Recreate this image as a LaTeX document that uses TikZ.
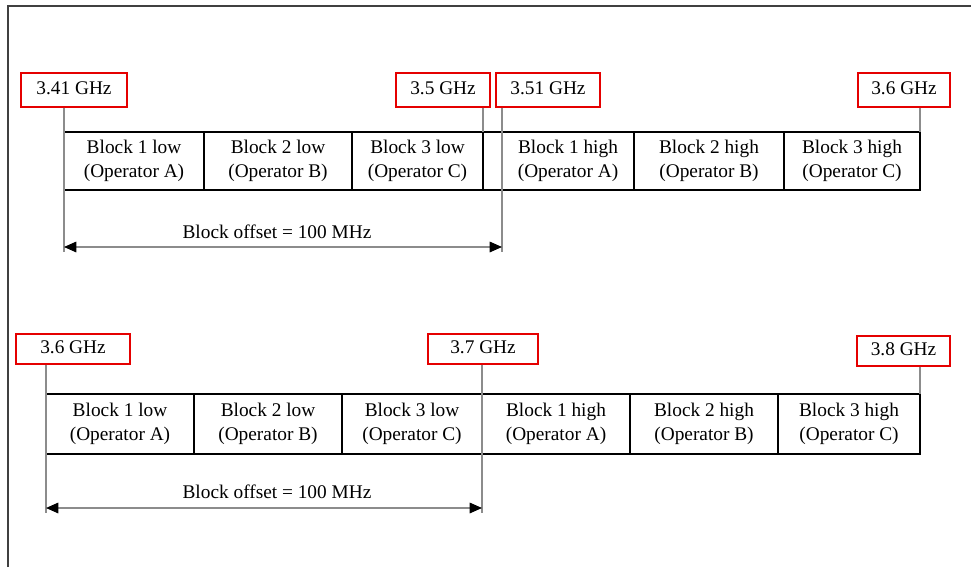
\documentclass[tikz,border=0pt]{standalone}
\usepackage{fontspec}
\setmainfont{Liberation Serif}
\usepackage{tikz}
\usetikzlibrary{positioning, arrows.meta, calc}

\begin{document}
\begin{tikzpicture}[
  font=\fontsize{11}{14}\selectfont,
  cell/.style={draw, line width=0.8pt, outer sep=0pt, inner sep=1pt, align=center},
  freq/.style={draw=red!90!black, line width=0.8pt, minimum height=0.68cm, inner sep=1pt,
    text depth=2pt},
  leader/.style={draw=black!45, line width=0.8pt},
  offset/.style={draw=black!45, line width=0.8pt,
    {Triangle[length=7pt,width=6pt,color=black]}-{Triangle[length=7pt,width=6pt,color=black]}},
]
  \useasboundingbox (0,0) rectangle (19.42,-11.34);
  % page frame (left and top edge only)
  \draw[black!75, line width=0.9pt] (0.16,-11.34) -- (0.16,-0.12) -- (19.42,-0.12);

  % Upper plan: 3.41 -- 3.6 GHz, low and high blocks with a gap
  \node[cell, minimum width=2.8cm, minimum height=1.16cm] (tl1) at (2.68,-3.22) {Block 1 low\\(Operator A)};
  \node[cell, minimum width=2.96cm, minimum height=1.16cm, right=0pt of tl1] (tl2) {Block 2 low\\(Operator B)};
  \node[cell, minimum width=2.62cm, minimum height=1.16cm, right=0pt of tl2] (tl3) {Block 3 low\\(Operator C)};
  \node[cell, minimum width=0.38cm, minimum height=1.16cm, right=0pt of tl3] (tgap) {};
  \node[cell, minimum width=2.64cm, minimum height=1.16cm, right=0pt of tgap] (th1) {Block 1 high\\(Operator A)};
  \node[cell, minimum width=3.0cm, minimum height=1.16cm, right=0pt of th1] (th2) {Block 2 high\\(Operator B)};
  \node[cell, minimum width=2.72cm, minimum height=1.16cm, right=0pt of th2] (th3) {Block 3 high\\(Operator C)};

  \node[freq, minimum width=2.12cm] (f341) at (1.48,-1.8) {3.41 GHz};
  \node[freq, minimum width=1.88cm] (f35)  at (8.86,-1.8) {3.5 GHz};
  \node[freq, minimum width=2.08cm] (f351) at (10.96,-1.8) {3.51 GHz};
  \node[freq, minimum width=1.84cm] (f36a) at (18.08,-1.8) {3.6 GHz};

  \coordinate (ta) at ($(tl1.south west)+(0,-1.14)$);
  \coordinate (tb) at ($(th1.south west)+(0,-1.14)$);
  \draw[leader] (tl1.north west |- f341.south) -- ($(ta)+(0,-0.1)$);
  \draw[leader] (tl3.north east |- f35.south) -- (tl3.north east);
  \draw[leader] (th1.north west |- f351.south) -- ($(tb)+(0,-0.1)$);
  \draw[leader] (th3.north east |- f36a.south) -- (th3.north east);
  \draw[offset] (ta) -- (tb);
  \node (toff) at (5.54,-4.64) {Block offset = 100 MHz};

  % Lower plan: 3.6 -- 3.8 GHz, contiguous blocks
  \node[cell, minimum width=2.96cm, minimum height=1.2cm] (bl1) at (2.4,-8.48) {Block 1 low\\(Operator A)};
  \node[cell, minimum width=2.96cm, minimum height=1.2cm, right=0pt of bl1] (bl2) {Block 2 low\\(Operator B)};
  \node[cell, minimum width=2.8cm, minimum height=1.2cm, right=0pt of bl2] (bl3) {Block 3 low\\(Operator C)};
  \node[cell, minimum width=2.96cm, minimum height=1.2cm, right=0pt of bl3] (bh1) {Block 1 high\\(Operator A)};
  \node[cell, minimum width=2.96cm, minimum height=1.2cm, right=0pt of bh1] (bh2) {Block 2 high\\(Operator B)};
  \node[cell, minimum width=2.84cm, minimum height=1.2cm, right=0pt of bh2] (bh3) {Block 3 high\\(Operator C)};

  \node[freq, minimum width=2.28cm, minimum height=0.6cm] (f36b) at (1.46,-6.98) {3.6 GHz};
  \node[freq, minimum width=2.2cm, minimum height=0.6cm]  (f37)  at (9.66,-6.98) {3.7 GHz};
  \node[freq, minimum width=1.86cm, minimum height=0.6cm] (f38)  at (18.07,-7.02) {3.8 GHz};

  \coordinate (ba) at ($(bl1.south west)+(0,-1.08)$);
  \coordinate (bb) at ($(bh1.south west)+(0,-1.08)$);
  \draw[leader] (bl1.north west |- f36b.south) -- ($(ba)+(0,-0.1)$);
  \draw[leader] (bh1.north west |- f37.south) -- ($(bb)+(0,-0.1)$);
  \draw[leader] (bh3.north east |- f38.south) -- (bh3.north east);
  \draw[offset] (ba) -- (bb);
  \node (boff) at (5.54,-9.84) {Block offset = 100 MHz};
\end{tikzpicture}
\end{document}
